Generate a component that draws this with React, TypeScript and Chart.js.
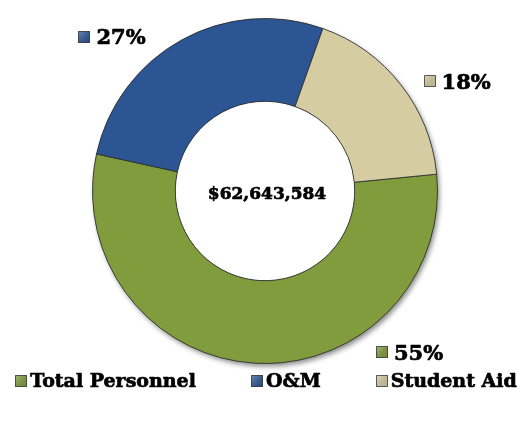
import React, { useEffect, useRef } from "react";
import { Chart, registerables } from "chart.js";

Chart.register(...registerables);

const categories = ["Total Personnel", "O&M", "Student Aid"];
const shares = [55, 27, 18];
const totalLabel = "$62,643,584";

const colors = ["#809C3C", "#2C5693", "#D6CCA2"];
const FONT = '"DejaVu Serif", "Liberation Serif", serif';
// label placement around the ring: angle (deg, clockwise from top) and distance (x outer radius)
const labelPlacement = [
  { a: 138.3, d: 1.26 },
  { a: 315, d: 1.254 },
  { a: 60.5, d: 1.28 },
];

function drawSwatch(ctx: CanvasRenderingContext2D, x: number, y: number, s: number, color: string) {
  const g = ctx.createLinearGradient(x, y, x + s, y + s);
  g.addColorStop(0, "rgba(255,255,255,0.35)");
  g.addColorStop(1, "rgba(0,0,0,0.1)");
  ctx.fillStyle = color;
  ctx.fillRect(x, y, s, s);
  ctx.fillStyle = g;
  ctx.fillRect(x, y, s, s);
  ctx.strokeStyle = "rgba(60,60,60,0.8)";
  ctx.lineWidth = 1;
  ctx.strokeRect(x + 0.5, y + 0.5, s - 1, s - 1);
}

function boldText(ctx: CanvasRenderingContext2D, text: string, x: number, y: number) {
  ctx.fillStyle = "#000";
  ctx.strokeStyle = "#000";
  ctx.lineWidth = 0.7;
  ctx.lineJoin = "round";
  ctx.fillText(text, x, y);
  ctx.strokeText(text, x, y);
}

const customPlugin = {
  id: "customDecor",
  beforeDatasetsDraw(chart: any) {
    const meta = chart.getDatasetMeta(0);
    const arc = meta.data[0];
    if (!arc) return;
    const { x, y, outerRadius, innerRadius } = arc.getProps(["x", "y", "outerRadius", "innerRadius"], true);
    const ctx = chart.ctx;
    ctx.save();
    // clip out the hole so no shadow falls inside it
    ctx.beginPath();
    ctx.rect(0, 0, chart.width, chart.height);
    ctx.arc(x, y, innerRadius, 0, Math.PI * 2, true);
    ctx.clip("evenodd");
    ctx.shadowColor = "rgba(0,0,0,0.45)";
    ctx.shadowBlur = 5;
    ctx.shadowOffsetX = 2;
    ctx.shadowOffsetY = 3;
    ctx.beginPath();
    ctx.arc(x, y, outerRadius, 0, Math.PI * 2);
    ctx.fillStyle = "#777";
    ctx.fill();
    ctx.restore();
  },
  afterDatasetsDraw(chart: any) {
    const ctx: CanvasRenderingContext2D = chart.ctx;
    const meta = chart.getDatasetMeta(0);
    const ds = chart.data.datasets[0];
    const first = meta.data[0];
    if (!first) return;
    const { x: cx, y: cy, outerRadius } = first.getProps(["x", "y", "outerRadius"], true);
    ctx.save();
    // center total
    ctx.font = `bold 17px ${FONT}`;
    ctx.textAlign = "center";
    ctx.textBaseline = "middle";
    boldText(ctx, totalLabel, cx + 2, cy + 4);

    // slice labels
    ctx.font = `bold 21px ${FONT}`;
    ctx.textAlign = "left";
    meta.data.forEach((_: any, i: number) => {
      const p = labelPlacement[i];
      const rad = (p.a * Math.PI) / 180;
      const px = cx + Math.sin(rad) * p.d * outerRadius;
      const py = cy - Math.cos(rad) * p.d * outerRadius;
      const text = `${ds.data[i]}%`;
      const tw = ctx.measureText(text).width;
      const sw = 12;
      const gap = 6;
      const total = sw + gap + tw;
      const x0 = px - total / 2;
      drawSwatch(ctx, Math.round(x0), Math.round(py - 7), sw, colors[i]);
      boldText(ctx, text, x0 + sw + gap, py + 1);
    });

    // legend
    ctx.font = `bold 19px ${FONT}`;
    const sw = 12;
    const gap = 3;
    const itemGap = 55;
    const widths = chart.data.labels.map((l: string) => sw + gap + ctx.measureText(l).width);
    const totalW = widths.reduce((a: number, b: number) => a + b, 0) + itemGap * (widths.length - 1);
    let lx = chart.width / 2 - totalW / 2 + 2;
    const ly = 381;
    chart.data.labels.forEach((l: string, i: number) => {
      drawSwatch(ctx, Math.round(lx), Math.round(ly - 6), sw, colors[i]);
      boldText(ctx, l, lx + sw + gap, ly + 1);
      lx += widths[i] + itemGap;
    });
    ctx.restore();
  },
};

export default function App() {
  const ref = useRef<HTMLCanvasElement | null>(null);
  useEffect(() => {
    document.body.style.margin = "0";
    const canvas = ref.current;
    if (!canvas) return;
    const chart = new Chart(canvas, {
      type: "doughnut",
      data: {
        labels: categories,
        datasets: [
          {
            data: shares,
            backgroundColor: colors,
            borderColor: "rgba(45,45,45,0.85)",
            borderWidth: 1,
          },
        ],
      },
      options: {
        animation: false,
        responsive: false,
        rotation: 84.4,
        cutout: "52%",
        layout: { padding: { left: 92, top: 18, right: 90, bottom: 58 } },
        plugins: {
          legend: { display: false },
          tooltip: { enabled: false },
        },
      },
      plugins: [customPlugin],
    });
    return () => chart.destroy();
  }, []);
  return (
    <div style={{ width: 528, height: 422 }}>
      <canvas ref={ref} width={528} height={422} />
    </div>
  );
}
